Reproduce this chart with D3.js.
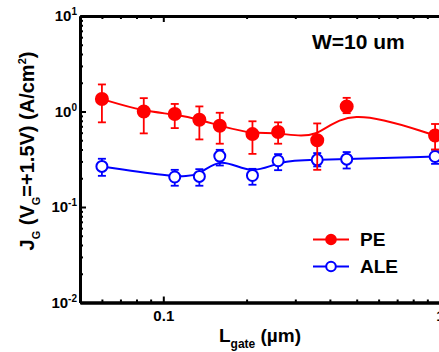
<!DOCTYPE html>
<html>
<head>
<meta charset="utf-8">
<script src="https://cdn.jsdelivr.net/npm/d3@7"></script>
<style>
  body { margin: 0; background: #fff; }
  svg { display: block; font-family: "Liberation Sans", Arial, sans-serif; font-weight: bold; }
</style>
</head>
<body>
<div id="container"></div>
<script>
// gate length (um) for each series
const peL  = [0.06, 0.085, 0.11, 0.135, 0.16, 0.21, 0.26, 0.36, 0.46, 0.96];
const peJ  = [1.35, 1.0, 0.94, 0.82, 0.71, 0.58, 0.61, 0.50, 1.13, 0.56];
const peHi = [1.92, 1.38, 1.2, 1.13, 0.97, 0.79, 0.77, 0.75, 1.39, 0.74];
const peLo = [0.77, 0.59, 0.67, 0.51, 0.46, 0.36, 0.46, 0.245, 0.96, 0.40];

const aleL  = [0.06, 0.11, 0.135, 0.16, 0.21, 0.26, 0.36, 0.46, 0.96];
const aleJ  = [0.266, 0.206, 0.209, 0.341, 0.214, 0.305, 0.312, 0.317, 0.338];
const aleHi = [0.32, 0.245, 0.249, 0.397, 0.251, 0.358, 0.367, 0.376, 0.397];
const aleLo = [0.212, 0.167, 0.167, 0.272, 0.171, 0.243, 0.266, 0.253, 0.283];

const xMajor = [0.1, 1];
const xMinor = [0.06, 0.07, 0.08, 0.09, 0.2, 0.3, 0.4, 0.5, 0.6, 0.7, 0.8, 0.9];
const yMajor = [0.01, 0.1, 1, 10];

const series = [
  { name: 'ALE', color: '#0000ff', fill: '#ffffff', L: aleL, J: aleJ, hi: aleHi, lo: aleLo },
  { name: 'PE',  color: '#ff0000', fill: '#ff0000', L: peL,  J: peJ,  hi: peHi,  lo: peLo }
];

const width = 439, height = 352;
const margin = { left: 80, right: 440, top: 16, bottom: 302.5 };

const svg = d3.select('#container')
  .append('svg')
  .attr('width', width)
  .attr('height', height);

// scales
const xScale = d3.scaleLog().domain([0.05, 1]).range([margin.left, margin.right]);
const yScale = d3.scaleLog().domain([0.01, 10]).range([margin.bottom, margin.top]);

let yMinor = [];
[0.01, 0.1, 1].forEach(d => { for (let k = 2; k <= 9; k++) yMinor.push(d * k); });

/*==================================================
    AXES
===================================================*/
const styleAxis = g => {
  g.select('.domain').attr('stroke', '#000').attr('stroke-width', 3);
  g.selectAll('.tick line').attr('stroke', '#000').attr('stroke-width', 2);
};

// bottom
svg.append('g')
  .attr('transform', `translate(0, ${margin.bottom})`)
  .call(d3.axisBottom(xScale).tickValues(xMajor).tickFormat(d3.format('')).tickSizeInner(-6).tickSizeOuter(0).tickPadding(8))
  .call(styleAxis)
  .call(g => g.selectAll('.tick text').attr('font-size', 15).attr('font-weight', 'bold').attr('fill', '#000').attr('font-family', null));
svg.append('g')
  .attr('transform', `translate(0, ${margin.bottom})`)
  .call(d3.axisBottom(xScale).tickValues(xMinor).tickFormat('').tickSizeInner(-3).tickSizeOuter(0))
  .call(styleAxis);

// top
svg.append('g')
  .attr('transform', `translate(0, ${margin.top})`)
  .call(d3.axisTop(xScale).tickValues(xMajor).tickFormat('').tickSizeInner(-6).tickSizeOuter(0))
  .call(styleAxis);
svg.append('g')
  .attr('transform', `translate(0, ${margin.top})`)
  .call(d3.axisTop(xScale).tickValues(xMinor).tickFormat('').tickSizeInner(-3).tickSizeOuter(0))
  .call(styleAxis);

// left
svg.append('g')
  .attr('transform', `translate(${margin.left}, 0)`)
  .call(d3.axisLeft(yScale).tickValues(yMajor).tickSizeInner(-6).tickSizeOuter(0).tickPadding(3))
  .call(styleAxis)
  .call(g => g.selectAll('.tick text')
    .attr('font-size', 15).attr('font-weight', 'bold').attr('fill', '#000').attr('font-family', null)
    .text(null)
    .each(function (d) {
      const t = d3.select(this);
      t.append('tspan').text('10');
      t.append('tspan').attr('font-size', 10).attr('dy', '-0.6em').text(Math.round(Math.log10(d)));
    }));
svg.append('g')
  .attr('transform', `translate(${margin.left}, 0)`)
  .call(d3.axisLeft(yScale).tickValues(yMinor).tickFormat('').tickSizeInner(-3).tickSizeOuter(0))
  .call(styleAxis);

/*==================================================
    DATA
===================================================*/
const line = d3.line()
  .x(d => xScale(d.L))
  .y(d => yScale(d.J))
  .curve(d3.curveBasis);

series.forEach(s => {
  const pts = s.L.map((L, i) => ({ L, J: s.J[i], hi: s.hi[i], lo: s.lo[i] }));
  const g = svg.append('g');

  g.append('path')
    .datum(pts)
    .attr('d', line)
    .attr('fill', 'none')
    .attr('stroke', s.color)
    .attr('stroke-width', 2);

  // error bars
  const eb = g.selectAll('.eb').data(pts).enter().append('g');
  eb.append('line')
    .attr('x1', d => xScale(d.L)).attr('x2', d => xScale(d.L))
    .attr('y1', d => yScale(d.hi)).attr('y2', d => yScale(d.lo));
  eb.append('line')
    .attr('x1', d => xScale(d.L) - 4).attr('x2', d => xScale(d.L) + 4)
    .attr('y1', d => yScale(d.hi)).attr('y2', d => yScale(d.hi));
  eb.append('line')
    .attr('x1', d => xScale(d.L) - 4).attr('x2', d => xScale(d.L) + 4)
    .attr('y1', d => yScale(d.lo)).attr('y2', d => yScale(d.lo));
  eb.selectAll('line').attr('stroke', s.color).attr('stroke-width', 1.8);

  g.selectAll('circle')
    .data(pts)
    .enter()
    .append('circle')
    .attr('cx', d => xScale(d.L))
    .attr('cy', d => yScale(d.J))
    .attr('r', s.name === 'PE' ? 6 : 5.5)
    .attr('fill', s.fill)
    .attr('stroke', s.color)
    .attr('stroke-width', 2);
});

/*==================================================
    LEGEND + LABELS
===================================================*/
const legendRows = [series[1], series[0]];
legendRows.forEach((s, i) => {
  const y = 239.5 + i * 27;
  svg.append('line')
    .attr('x1', 313).attr('x2', 349).attr('y1', y).attr('y2', y)
    .attr('stroke', s.color).attr('stroke-width', 2);
  svg.append('circle')
    .attr('cx', 331).attr('cy', y).attr('r', 4.8)
    .attr('fill', s.fill).attr('stroke', s.color).attr('stroke-width', 2);
  svg.append('text')
    .attr('x', 360).attr('y', y + 6.5)
    .attr('font-size', 19)
    .text(s.name);
});

svg.append('text')
  .attr('x', 312).attr('y', 49)
  .attr('font-size', 21)
  .text('W=10 um');

// x label
const xl = svg.append('text')
  .attr('x', 260).attr('y', 341.5)
  .attr('text-anchor', 'middle')
  .attr('font-size', 19);
xl.append('tspan').text('L');
xl.append('tspan').attr('font-size', 12).attr('dy', 6).text('gate');
xl.append('tspan').attr('dy', -6).text(' (\u00b5m)');

// y label
const yl = svg.append('text')
  .attr('transform', 'translate(34, 151) rotate(-90)')
  .attr('text-anchor', 'middle')
  .attr('font-size', 20);
yl.append('tspan').text('J');
yl.append('tspan').attr('font-size', 11).attr('dy', 6).text('G');
yl.append('tspan').attr('dy', -6).text(' (V');
yl.append('tspan').attr('font-size', 11).attr('dy', 6).text('G');
yl.append('tspan').attr('dy', -6).text('=+1.5V) (A/cm');
yl.append('tspan').attr('font-size', 11).attr('dy', -8).text('2');
yl.append('tspan').attr('dy', 8).text(')');
</script>
</body>
</html>
